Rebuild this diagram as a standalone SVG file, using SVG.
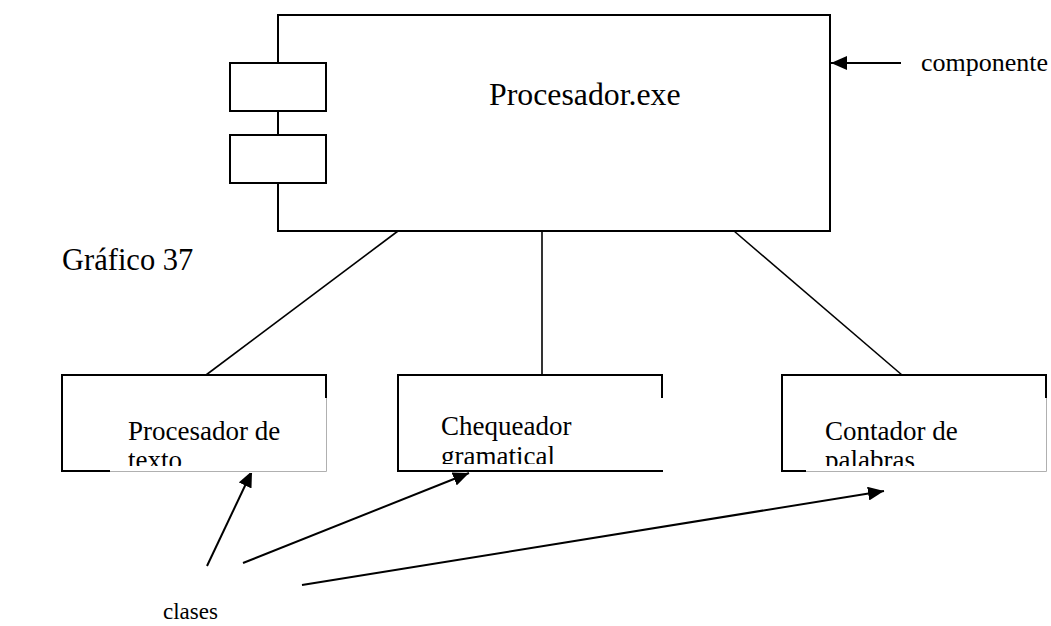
<svg xmlns="http://www.w3.org/2000/svg" width="1051" height="626" viewBox="0 0 1051 626">
  <style>
    .box { fill: #fff; stroke: #000; stroke-width: 2; }
    .line { fill: none; stroke: #000; stroke-width: 1.6; }
    .arrow { fill: none; stroke: #000; stroke-width: 2; marker-end: url(#head); }
    .txt { font-family: 'Liberation Serif', 'DejaVu Serif', serif; fill: #000; }
    .cover { fill: #fff; stroke: none; }
    .edge { stroke: #b0b0b0; stroke-width: 1; fill: none; }
  </style>
  <defs>
    <marker id="head" markerUnits="userSpaceOnUse" markerWidth="18" markerHeight="14" refX="16" refY="7" orient="auto">
      <path d="M0,0 L16,7 L0,14 Z" fill="#000"/>
    </marker>
    <clipPath id="clip1"><rect x="100" y="398" width="230" height="68"/></clipPath>
    <clipPath id="clip2"><rect x="420" y="398" width="250" height="66"/></clipPath>
    <clipPath id="clip3"><rect x="800" y="398" width="250" height="68"/></clipPath>
  </defs>
  <rect width="1051" height="626" fill="#fff"/>

  <!-- connectors -->
  <g id="connectors">
    <line class="line" x1="398" y1="231" x2="206" y2="375"/>
    <line class="line" x1="542" y1="231" x2="542" y2="375"/>
    <line class="line" x1="734" y1="231" x2="902" y2="375"/>
    <line class="arrow" x1="901" y1="63" x2="831" y2="63"/>
    <line class="arrow" x1="207" y1="566" x2="252" y2="471"/>
    <line class="arrow" x1="243" y1="563" x2="469" y2="473"/>
    <line class="arrow" x1="302" y1="585" x2="884" y2="491"/>
  </g>

  <!-- component -->
  <g id="procesador-exe">
    <rect class="box" x="278" y="15" width="552" height="216"/>
    <rect class="box" x="230" y="63" width="96" height="48"/>
    <rect class="box" x="230" y="135" width="96" height="48"/>
    <text class="txt" font-family="Liberation Serif, serif" x="489" y="105" font-size="31.8">Procesador.exe</text>
  </g>

  <g id="label-componente">
    <text class="txt" font-family="Liberation Serif, serif" x="921" y="71" font-size="26">componente</text>
  </g>

  <g id="label-grafico">
    <text class="txt" font-family="Liberation Serif, serif" x="62" y="270" font-size="30.5">Gráfico 37</text>
  </g>

  <!-- classes -->
  <g id="procesador-texto">
    <rect class="box" x="62" y="375" width="264" height="96"/>
    <rect class="cover" x="110" y="398" width="218" height="75"/>
    <polyline class="edge" points="110,471.5 326.5,471.5 326.5,398"/>
    <g clip-path="url(#clip1)">
      <text class="txt" font-family="Liberation Serif, serif" x="128" y="440" font-size="27">Procesador de</text>
      <text class="txt" font-family="Liberation Serif, serif" x="128" y="469" font-size="27">texto</text>
    </g>
  </g>

  <g id="chequeador-gramatical">
    <rect class="box" x="398" y="375" width="264" height="96"/>
    <rect class="cover" x="422" y="398" width="242" height="72"/>
    <line x1="422" y1="471" x2="662" y2="471" stroke="#000" stroke-width="1.3"/>
    <g clip-path="url(#clip2)">
      <text class="txt" font-family="Liberation Serif, serif" x="441" y="435" font-size="27">Chequeador</text>
      <text class="txt" font-family="Liberation Serif, serif" x="441" y="465" font-size="27">gramatical</text>
    </g>
  </g>

  <g id="contador-palabras">
    <rect class="box" x="782" y="375" width="264" height="96"/>
    <rect class="cover" x="806" y="398" width="242" height="75"/>
    <polyline class="edge" points="806,471.5 1046.5,471.5 1046.5,398"/>
    <g clip-path="url(#clip3)">
      <text class="txt" font-family="Liberation Serif, serif" x="825" y="440" font-size="27">Contador de</text>
      <text class="txt" font-family="Liberation Serif, serif" x="825" y="469" font-size="27">palabras</text>
    </g>
  </g>

  <g id="label-clases">
    <text class="txt" font-family="Liberation Serif, serif" x="163" y="619" font-size="23">clases</text>
  </g>
</svg>
